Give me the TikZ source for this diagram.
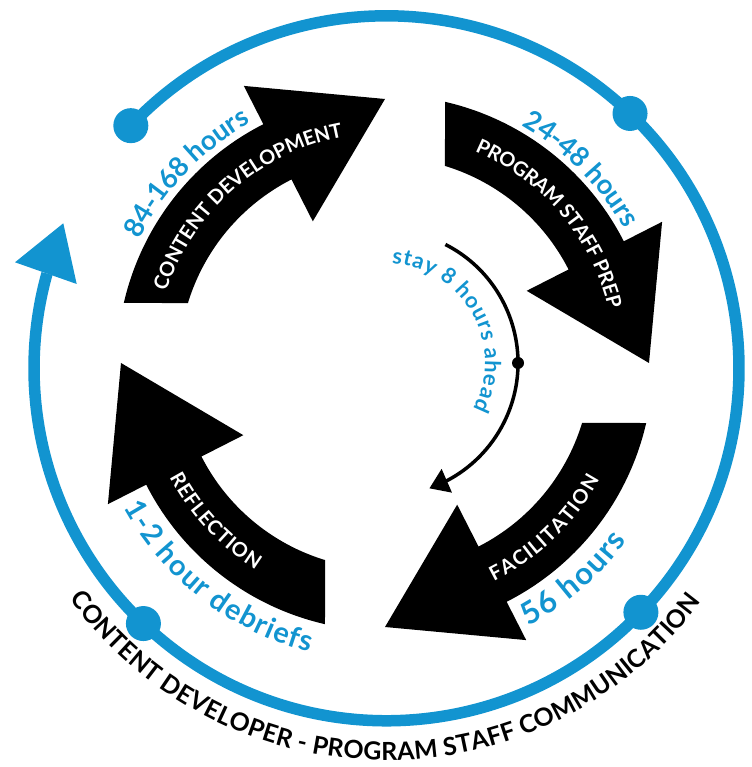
\documentclass[tikz,border=0pt]{standalone}
\usepackage{fontspec}
\setmainfont{Lato}
\usetikzlibrary{decorations.text,arrows.meta,bending}
\definecolor{cycleblue}{RGB}{18,148,208}
\newcommand\bandfont{\bfseries\fontsize{20}{23}\selectfont}
\newcommand\hoursfont{\bfseries\fontsize{27.5}{31}\selectfont}
\newcommand\bighoursfont{\bfseries\fontsize{31}{34}\selectfont}
\newcommand\debrieffont{\bfseries\fontsize{29}{32}\selectfont}
\newcommand\aheadfont{\bfseries\fontsize{22}{25}\selectfont}
\newcommand\ringfont{\bfseries\fontsize{25}{29}\selectfont}

\begin{document}
\begin{tikzpicture}[x=1bp,y=1bp,
  spread/.style 2 args={decorate,decoration={text effects along path,text={#2},
    text effects/.cd,text along path,fit text to path,characters={#1}}},
  bandtext/.style={spread={text=white,font=\bandfont}{#1}},
  hourstext/.style={spread={text=cycleblue,font=\hoursfont}{#1}},
  bighourstext/.style={spread={text=cycleblue,font=\bighoursfont}{#1}},
  debrieftext/.style={spread={text=cycleblue,font=\debrieffont}{#1}},
  aheadtext/.style={spread={text=cycleblue,font=\aheadfont}{#1}},
  ringtext/.style={spread={text=black,font=\ringfont}{#1}},
  ring/.style={cycleblue,line width=11.5bp},
  ringdot/.style={fill=cycleblue}]
\useasboundingbox (0,0) rectangle (752,767);

% four curved black arrows of the cycle
\foreach \rot in {0,-90,-180,-270}{
  \begin{scope}[shift={(385,404)},rotate=\rot]
    \fill (167.06:268) arc[start angle=167.06,end angle=117,radius=268]
      -- (117:311) -- (90:264) -- (117:159) -- (117:206)
      arc[start angle=117,end angle=163.07,radius=206] -- cycle;
  \end{scope}
}

\begin{scope}[shift={(385,404)}]
  % stage names inside the bands
  \path[bandtext={CONTENT DEVELOPMENT}] (162:230) arc[start angle=162,end angle=100.5,radius=230];
  \path[bandtext={PROGRAM STAFF PREP}] (67:230) arc[start angle=67,end angle=13.6,radius=230];
  \path[bandtext={FACILITATION}] (-63.5:244) arc[start angle=-63.5,end angle=-28.5,radius=244];
  \path[bandtext={REFLECTION}] (-152:244) arc[start angle=-152,end angle=-122,radius=244];
  % durations
  \path[hourstext={84-168 hours}] (153.3:275) arc[start angle=153.3,end angle=119.2,radius=275];
  \path[hourstext={24-48 hours}] (60.1:274) arc[start angle=60.1,end angle=29.2,radius=274];
  \path[bighourstext={56 hours}] (-61.4:300) arc[start angle=-61.4,end angle=-36.4,radius=300];
  \path[debrieftext={1-2 hour debriefs}] (-151.1:299) arc[start angle=-151.1,end angle=-104.6,radius=299];
  % inner reminder arc
  \draw[line width=3.5bp,-{Triangle[length=19bp,width=25bp,flex]}]
    (63:133) arc[start angle=63,end angle=-70.5,radius=133];
  \fill (0:133) circle[radius=6];
  \path[aheadtext={stay 8 hours ahead}] (86:100) arc[start angle=86,end angle=-27.5,radius=100];
\end{scope}

% outer communication ring
\begin{scope}[shift={(386.5,398.7)}]
  \draw[ring] (136.5:352.5) arc[start angle=136.5,end angle=-195.6,radius=352.5];
  \fill[cycleblue] (-371.5,106) -- (-323.2,145) -- (-309.8,84.3) -- cycle;
  \foreach \a in {136.5,46.3,-43.8,-133.6}
    \fill[ringdot] (\a:352.5) circle[radius=17.5];
  \path[ringtext={CONTENT DEVELOPER - PROGRAM STAFF COMMUNICATION}] (-144:392) arc[start angle=-144,end angle=-36.5,radius=392];
\end{scope}
\end{tikzpicture}
\end{document}
